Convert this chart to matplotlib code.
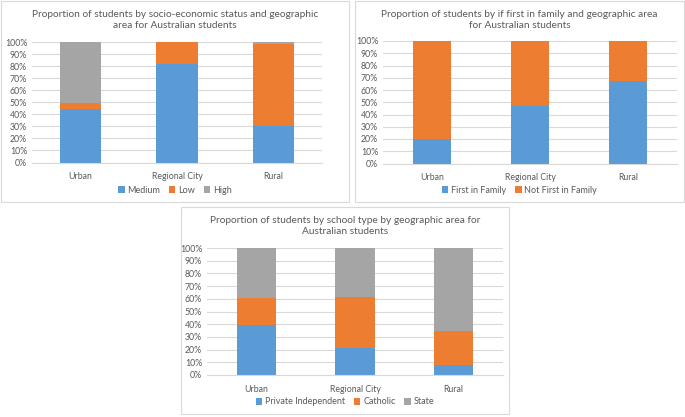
import matplotlib.pyplot as plt
from matplotlib.patches import Rectangle
from matplotlib.ticker import PercentFormatter

areas = ['Urban', 'Regional City', 'Rural']

# socio-economic status (%)
ses_medium = [44.5, 82.0, 30.7]
ses_low = [4.9, 18.0, 67.3]
ses_high = [50.6, 0.0, 2.0]

# first in family (%)
fif_first = [19.8, 46.7, 67.1]
fif_not = [80.2, 53.3, 32.9]

# school type (%)
sch_private = [39.1, 21.5, 8.1]
sch_catholic = [21.3, 40.2, 26.5]
sch_state = [39.6, 38.3, 65.4]

BLUE = '#5B9BD5'
ORANGE = '#ED7D31'
GRAY = '#A5A5A5'
TXT = '#595959'
GRID = '#D9D9D9'

W, H = 685, 417
plt.rcParams['font.family'] = ['Lato', 'DejaVu Sans']


def px(x, y, w, h):
    return [x / W, 1 - (y + h) / H, w / W, h / H]


def panel(fig, box, axbox, title, title_y, series, labels, colors, barw, legend_y):
    x0, y0, x1, y1 = box
    fig.patches.append(Rectangle((x0 / W, 1 - y1 / H), (x1 - x0) / W, (y1 - y0) / H,
                                 transform=fig.transFigure, fill=False,
                                 edgecolor='#D9D9D9', linewidth=0.8))
    ax = fig.add_axes(px(*axbox))
    bottom = [0, 0, 0]
    handles = []
    for vals, lab, col in zip(series, labels, colors):
        b = ax.bar(range(3), vals, bottom=bottom, width=barw, color=col, label=lab)
        handles.append(b)
        bottom = [a + v for a, v in zip(bottom, vals)]
    ax.set_ylim(0, 100)
    ax.set_xlim(-0.5, 2.5)
    ax.set_yticks(range(0, 101, 10))
    ax.yaxis.set_major_formatter(PercentFormatter(decimals=0))
    ax.set_xticks(range(3))
    ax.set_xticklabels(areas)
    ax.tick_params(length=0, labelsize=6.3, colors=TXT)
    ax.tick_params(axis='x', pad=7)
    ax.grid(axis='y', color=GRID, linewidth=0.8)
    ax.set_axisbelow(True)
    for s in ['top', 'right', 'left']:
        ax.spines[s].set_visible(False)
    ax.spines['bottom'].set_color(GRID)
    cx = (x0 + x1) / 2 / W
    fig.text(cx, 1 - title_y / H, title, ha='center', va='center',
             fontsize=7.3, color=TXT, linespacing=1.35)
    fig.legend(handles=handles, loc='center', bbox_to_anchor=(cx, 1 - legend_y / H),
               ncol=len(labels), frameon=False, fontsize=6.5, labelcolor=TXT,
               handlelength=0.7, handleheight=0.7, handletextpad=0.3, columnspacing=1.0)


fig = plt.figure(figsize=(6.85, 4.17), dpi=100)

panel(fig, (1, 1, 349, 202), (32, 42, 290, 120.5),
      'Proportion of students by socio-economic status and geographic\narea for Australian students',
      20, [ses_medium, ses_low, ses_high], ['Medium', 'Low', 'High'],
      [BLUE, ORANGE, GRAY], 0.43, 190)

panel(fig, (355, 1, 684, 202), (383, 41, 294, 122.5),
      'Proportion of students by if first in family and geographic area\nfor Australian students',
      20, [fif_first, fif_not], ['First in Family', 'Not First in Family'],
      [BLUE, ORANGE], 0.39, 190)

panel(fig, (181, 207, 509, 414), (207, 248, 296, 127),
      'Proportion of students by school type by geographic area for\nAustralian students',
      226, [sch_private, sch_catholic, sch_state], ['Private Independent', 'Catholic', 'State'],
      [BLUE, ORANGE, GRAY], 0.40, 402)

fig.savefig('out.png', dpi=100)
